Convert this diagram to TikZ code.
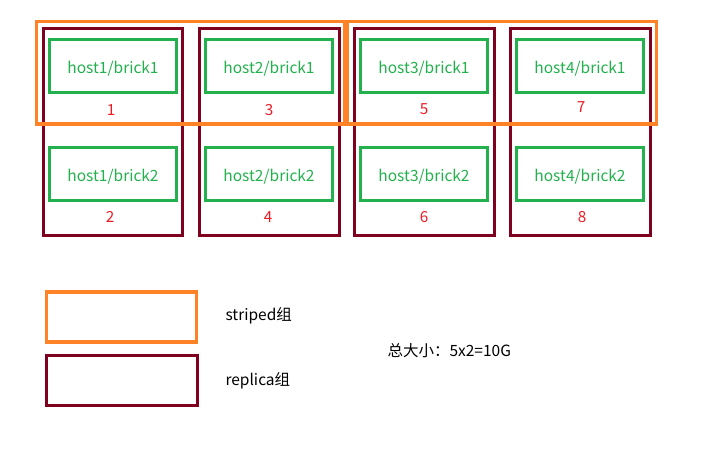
\documentclass[tikz,border=0pt]{standalone}
\usepackage{fontspec}
\setmainfont{Noto Sans CJK SC}
\definecolor{stripeorange}{RGB}{255,130,38}
\definecolor{replicared}{RGB}{128,0,32}
\definecolor{brickgreen}{RGB}{34,177,76}
\definecolor{numred}{RGB}{237,28,36}
\tikzset{
  brick/.style={draw=brickgreen, line width=3pt, text=brickgreen, minimum width=127pt, minimum height=53pt, text height=15pt, text depth=0pt, font=\fontsize{15.5}{17}\selectfont},
  brickno/.style={text=numred, font=\fontsize{15.3}{17}\selectfont},
  replicabox/.style={draw=replicared, line width=3pt},
  stripebox/.style={draw=stripeorange, line width=3.2pt},
  legendtext/.style={anchor=west, font=\fontsize{15.5}{17}\selectfont}
}
\begin{document}
\begin{tikzpicture}[x=1pt,y=-1pt]
\useasboundingbox (0,0) rectangle (712,474);

% replica groups (one per host column)
\draw[replicabox] (43.7,28.2) rectangle (182.5,235);
\draw[replicabox] (199.5,28.2) rectangle (339.5,235);
\draw[replicabox] (354.5,28.2) rectangle (494,235);
\draw[replicabox] (510.5,28.2) rectangle (650,235);

% striped groups (first row, two hosts each)
\draw[stripebox] (36.3,21.3) rectangle (345,124);
\draw[stripebox] (347.5,21.3) rectangle (656.5,124);

% bricks, first row
\node[brick] (b11) at (113,66) {host1/brick1};
\node[brick] (b21) at (269,66) {host2/brick1};
\node[brick] (b31) at (424,66) {host3/brick1};
\node[brick] (b41) at (580,66) {host4/brick1};

% bricks, second row
\node[brick] (b12) at (113,174) {host1/brick2};
\node[brick] (b22) at (269,174) {host2/brick2};
\node[brick] (b32) at (424,174) {host3/brick2};
\node[brick] (b42) at (580,174) {host4/brick2};

% brick numbers
\node[brickno] (n1) at (111,110) {1};
\node[brickno] (n3) at (269,110) {3};
\node[brickno] (n5) at (424,109) {5};
\node[brickno] (n7) at (581,107) {7};
\node[brickno] (n2) at (110,217) {2};
\node[brickno] (n4) at (268,217) {4};
\node[brickno] (n6) at (424,217) {6};
\node[brickno] (n8) at (582,217) {8};

% legend
\draw[stripebox] (46.5,292) rectangle (196.5,342);
\draw[replicabox] (46.5,355) rectangle (197.5,405);
\node[legendtext] (lstripe) at (222,316) {striped组};
\node[legendtext] (lreplica) at (222,381) {replica组};
\node[legendtext] (total) at (384,351) {总大小：5x2=10G};
\end{tikzpicture}
\end{document}
